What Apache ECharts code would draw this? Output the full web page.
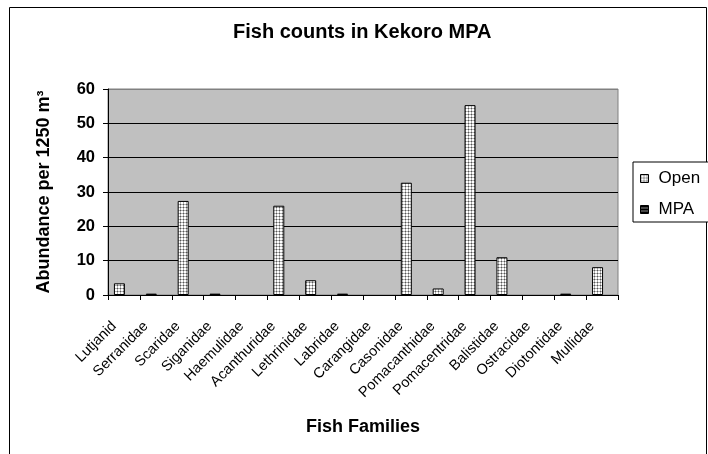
<!DOCTYPE html>
<html>
<head>
<meta charset="utf-8">
<script src="https://cdn.jsdelivr.net/npm/echarts@6/dist/echarts.min.js"></script>
<style>
  html, body { margin: 0; padding: 0; background: #fff; }
  #chart { width: 708px; height: 454px; }
</style>
</head>
<body>
<div id="chart"></div>
<script>
// Fish families surveyed
const families = ['Lutjanid', 'Serranidae', 'Scaridae', 'Siganidae', 'Haemulidae',
  'Acanthuridae', 'Lethrinidae', 'Labridae', 'Carangidae', 'Casonidae',
  'Pomacanthidae', 'Pomacentridae', 'Balistidae', 'Ostracidae', 'Diotontidae', 'Mullidae'];

// Abundance per 1250 m3 in open (fished) areas
const openCounts = [3.4, 0.4, 27.4, 0.4, 0, 26.0, 4.3, 0.4, 0, 32.7, 1.9, 55.3, 11.0, 0, 0.4, 8.1];

// Abundance per 1250 m3 inside the marine protected area
const mpaCounts = [0, 0, 0, 0, 0, 0, 0, 0, 0, 0, 0, 0, 0, 0, 0, 0];

// Value axis ticks
const yTicks = [0, 10, 20, 30, 40, 50, 60];

const FONT = 'Arial, "Liberation Sans", sans-serif';

// Dotted fill for the open-area bars
function dotPattern() {
  const c = document.createElement('canvas');
  c.width = 3; c.height = 3;
  const g = c.getContext('2d');
  g.fillStyle = '#ffffff'; g.fillRect(0, 0, 3, 3);
  g.fillStyle = '#b0b0b0'; g.fillRect(0, 0, 3, 1); g.fillRect(0, 0, 1, 3);
  g.fillStyle = '#555555'; g.fillRect(0, 0, 1, 1);
  return c;
}

// Horizontal stripe fill for the MPA bars
function stripePattern() {
  const c = document.createElement('canvas');
  c.width = 3; c.height = 3;
  const g = c.getContext('2d');
  g.fillStyle = '#909090'; g.fillRect(0, 0, 3, 3);
  g.fillStyle = '#000000'; g.fillRect(0, 0, 3, 2);
  return c;
}

const openFill = { image: dotPattern(), repeat: 'repeat' };
const mpaFill = { image: stripePattern(), repeat: 'repeat' };

// Empty counts are left undrawn
const toBars = arr => arr.map(v => (v === 0 ? '-' : v));

const chart = echarts.init(document.getElementById('chart'), null, { renderer: 'canvas' });

chart.setOption({
  animation: false,
  backgroundColor: '#ffffff',
  title: {
    text: 'Fish counts in Kekoro MPA',
    left: 233,
    top: 22,
    padding: 0,
    textStyle: { fontFamily: FONT, fontSize: 20, fontWeight: 'bold', color: '#000' }
  },
  graphic: [{
    type: 'rect',
    z: -1,
    shape: { x: 9.5, y: 7.5, width: 697, height: 460 },
    style: { fill: 'none', stroke: '#000', lineWidth: 1 }
  }],
  legend: {
    orient: 'vertical',
    left: 633,
    top: 162,
    padding: [8, 40, 4, 7],
    itemGap: 14,
    itemWidth: 8,
    itemHeight: 8,
    backgroundColor: '#fff',
    borderColor: '#000',
    borderWidth: 1,
    borderRadius: 0,
    textStyle: { fontFamily: FONT, fontSize: 17, color: '#000', lineHeight: 15, padding: [0, 0, 0, 5] },
    data: [
      { name: 'Open', icon: 'rect', itemStyle: { color: openFill, borderColor: '#000', borderWidth: 1 } },
      { name: 'MPA', icon: 'rect', itemStyle: { color: mpaFill, borderColor: '#000', borderWidth: 1 } }
    ]
  },
  grid: {
    left: 108,
    right: 90,
    top: 89,
    bottom: 159,
    show: true,
    backgroundColor: '#c0c0c0',
    borderColor: '#808080',
    borderWidth: 1
  },
  xAxis: {
    type: 'category',
    data: families,
    boundaryGap: true,
    name: 'Fish Families',
    nameLocation: 'middle',
    nameGap: 123,
    nameTextStyle: { fontFamily: FONT, fontSize: 18, fontWeight: 'bold', color: '#000' },
    axisLine: { lineStyle: { color: '#000', width: 1 } },
    axisTick: { show: true, length: 5, alignWithLabel: false, lineStyle: { color: '#000' } },
    axisLabel: {
      interval: 0,
      rotate: 45,
      margin: 19,
      padding: [0, 14, 0, 0],
      fontFamily: FONT,
      fontSize: 14.5,
      color: '#000'
    },
    splitLine: { show: false }
  },
  yAxis: {
    type: 'value',
    min: yTicks[0],
    max: yTicks[yTicks.length - 1],
    interval: yTicks[1] - yTicks[0],
    name: 'Abundance per 1250 m³',
    nameLocation: 'middle',
    nameRotate: 90,
    nameGap: 55,
    nameTextStyle: { fontFamily: FONT, fontSize: 18, fontWeight: 'bold', color: '#000' },
    axisLine: { show: true, lineStyle: { color: '#000', width: 1 } },
    axisTick: { show: true, length: 5, lineStyle: { color: '#000' } },
    axisLabel: { margin: 13, fontFamily: FONT, fontSize: 16.5, fontWeight: 'bold', color: '#000' },
    splitLine: {
      show: true,
      lineStyle: { color: ['#000', '#000', '#000', '#000', '#000', '#000', '#808080'], width: 1 }
    }
  },
  series: [
    {
      name: 'Open',
      type: 'bar',
      data: toBars(openCounts),
      barWidth: 11,
      barGap: '-18%',
      itemStyle: { color: openFill, borderColor: '#000', borderWidth: 1 }
    },
    {
      name: 'MPA',
      type: 'bar',
      data: toBars(mpaCounts),
      barWidth: 11,
      barGap: '-18%',
      itemStyle: { color: mpaFill, borderColor: '#000', borderWidth: 1 }
    }
  ]
});
</script>
</body>
</html>
